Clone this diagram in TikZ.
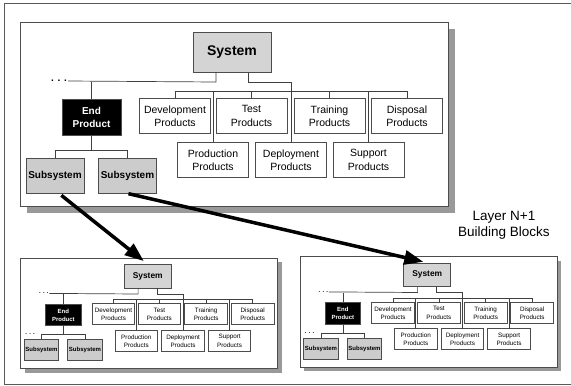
\documentclass[tikz,border=0pt]{standalone}
\usepackage{fontspec}
\setmainfont{Liberation Sans}
\usetikzlibrary{arrows.meta}

\tikzset{
  box/.style={draw=black!70, line width=0.9pt, fill=white, minimum width=71pt, minimum height=35pt,
    inner sep=0pt, align=center, font=\fontsize{10.5}{13.5}\selectfont},
  sysbox/.style={box, fill=black!17, minimum width=78pt, minimum height=39.5pt, font=\fontsize{14}{16}\selectfont\bfseries},
  endbox/.style={box, fill=black, text=white, minimum width=59pt, minimum height=36pt, font=\fontsize{10}{13}\selectfont\bfseries},
  subbox/.style={box, fill=black!20, minimum width=58pt, minimum height=35pt, font=\fontsize{10}{13}\selectfont\bfseries},
  framebox/.style={draw=black!70, line width=0.8pt, fill=white, minimum width=428pt, minimum height=184pt,
    inner sep=0pt, anchor=north west},
  dotsnode/.style={inner sep=1pt, font=\fontsize{10}{12}\selectfont\bfseries},
  wire/.style={draw=black!75, line width=0.7pt},
  bigarrow/.style={line width=3.5pt, -{Triangle[length=19pt,width=14pt]}},
}

% #1 name prefix, #2 origin, #3 scale, #4 dots beside the subsystems (1/0)
\newcommand{\layerblock}[4]{%
\begin{scope}[shift={#2}, scale=#3, transform shape, name prefix=#1-]
  \fill[black!40] (7,7) rectangle (435,191);
  \node[framebox] (frame) at (0,0) {};

  \node[sysbox] (sys) at (212,30.5) {System};
  \node[dotsnode] (dots) at (39,59) {. . .};
  \node[endbox] (ep) at (71.5,95) {End\\Product};

  \node[box] (dev) at (155,94) {Development\\Products};
  \node[box] (test) at (231.5,94) {Test\\Products};
  \node[box] (train) at (309.5,94) {Training\\Products};
  \node[box] (disp) at (387,94) {Disposal\\Products};
  \node[box] (prod) at (193,138) {Production\\Products};
  \node[box] (depl) at (271,138) {Deployment\\Products};
  \node[box] (supp) at (348.5,138) {Support\\Products};

  \node[subbox] (sub1) at (35,153.5) {Subsystem};
  \node[subbox] (sub2) at (107.5,153.5) {Subsystem};

  \coordinate (sysl) at (196,60);
  \coordinate (sysr) at (228,60);
  \coordinate (bus) at (0,69);
  \coordinate (subbar) at (0,128);

  \draw[wire] (dots.east) -- (sysl) -- (sysl |- sys.south);
  \draw[wire] (ep.north) -- (ep.north |- sysl);
  \draw[wire] (sysr |- sys.south) -- (sysr) -| (depl.north);
  \draw[wire] (dev.north) -- (dev.north |- bus) -- (disp.north |- bus) -- (disp.north);
  \foreach \b in {test,train,prod,supp}
    \draw[wire] (\b.north) -- (\b.north |- bus);

  \draw[wire] (ep.south) -- (ep.south |- subbar);
  \draw[wire] (sub1.north) -- (sub1.north |- subbar) -- (sub2.north |- subbar) -- (sub2.north);
  \ifnum#4=1
    \node[dotsnode] (dots2) at (16,127) {. . .};
  \fi
\end{scope}}

\begin{document}
\begin{tikzpicture}[x=1pt, y=-1pt]
\useasboundingbox (0,0) rectangle (571,386);
\draw[black!65, line width=0.9pt] (4,3.5) rectangle (575,384);

\layerblock{M}{(20,22)}{1}{0}
\layerblock{L}{(20.5,258)}{0.6}{1}
\layerblock{R}{(300,256.5)}{0.6}{1}

\node[font=\fontsize{13.5}{16}\selectfont, align=center] (layer) at (504,225) {Layer N+1\\Building Blocks};

\draw[bigarrow, shorten <=3pt, shorten >=5pt] ([xshift=4pt]M-sub1.south) -- (L-sys.north);
\draw[bigarrow, shorten <=1pt, shorten >=4pt] (M-sub2.south) -- (R-sys.north);

\end{tikzpicture}
\end{document}
